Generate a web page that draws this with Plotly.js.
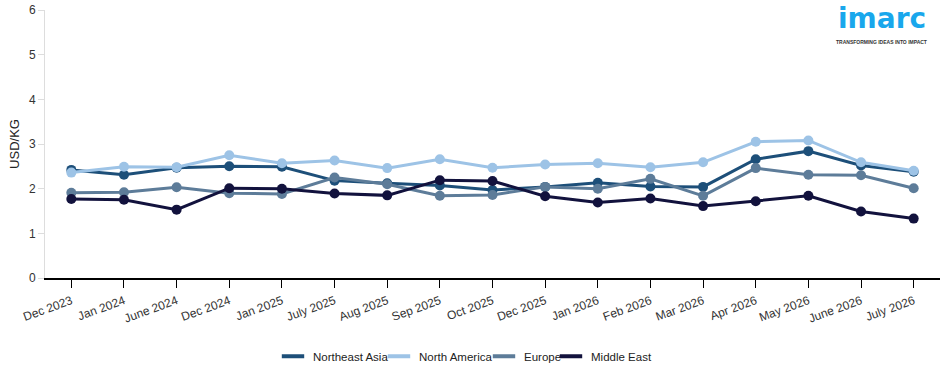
<!DOCTYPE html>
<html>
<head>
<meta charset="utf-8">
<script src="https://cdn.plot.ly/plotly-3.0.1.min.js"></script>
<style>html,body{margin:0;padding:0;background:#fff;}#chart{width:950px;height:373px;}</style>
</head>
<body>
<div id="chart"></div>
<script>
const categories = ["Dec 2023","Jan 2024","June 2024","Dec 2024","Jan 2025","July 2025","Aug 2025","Sep 2025","Oct 2025","Dec 2025","Jan 2026","Feb 2026","Mar 2026","Apr 2026","May 2026","June 2026","July 2026"];
const northeastAsia = [2.42,2.31,2.47,2.50,2.49,2.18,2.12,2.07,1.97,2.04,2.13,2.05,2.04,2.66,2.84,2.52,2.38];
const northAmerica  = [2.36,2.49,2.48,2.75,2.57,2.63,2.46,2.66,2.47,2.54,2.57,2.48,2.59,3.05,3.08,2.59,2.40];
const europe        = [1.91,1.92,2.03,1.90,1.88,2.25,2.10,1.84,1.86,2.04,2.00,2.22,1.84,2.46,2.31,2.30,2.01];
const middleEast    = [1.77,1.75,1.53,2.01,2.00,1.89,1.85,2.19,2.17,1.83,1.69,1.78,1.61,1.72,1.84,1.49,1.33];
const yTicks = [0,1,2,3,4,5,6];

const series = [
  ['Northeast Asia', northeastAsia, '#1d4f79'],
  ['North America', northAmerica, '#9dc3e6'],
  ['Europe', europe, '#5d7c99'],
  ['Middle East', middleEast, '#12123d']
];
const legendIds = ['legend','legend2','legend3','legend4'];
const legendTextX = [315, 421, 526, 593];
const data = [];
series.forEach(([name, y, color]) => {
  data.push({type:'scatter', mode:'lines+markers', name:name, x:categories, y:y,
    line:{color:color, width:3}, marker:{color:color, size:10}, showlegend:false});
});
series.forEach(([name, y, color], i) => {
  data.push({type:'scatter', mode:'markers', name:name, x:[null], y:[null],
    marker:{symbol:'line-ew-open', size:16, color:color, line:{color:color, width:4}},
    showlegend:true, legend:legendIds[i]});
});
const layout = {
  width:950, height:373,
  margin:{l:45, r:10, t:10, b:95, autoexpand:false},
  paper_bgcolor:'#fff', plot_bgcolor:'#fff',
  font:{family:'Liberation Sans, Arial, sans-serif', size:12, color:'#333'},
  showlegend:true,
  xaxis:{type:'category', range:[-0.5,16.5], showgrid:false, zeroline:false, automargin:false,
    showline:true, linecolor:'#000', linewidth:1.5, ticks:'outside', ticklen:8, tickcolor:'#000',
    tickangle:-20, ticklabelstandoff:2, tickfont:{size:12, color:'#333'}},
  yaxis:{range:[0,6], tickvals:yTicks, showgrid:false, zeroline:false, automargin:false,
    showline:true, linecolor:'#ddd', linewidth:1, ticks:'outside', ticklen:6, tickcolor:'#ddd',
    tickfont:{size:12, color:'#333'},
    title:{text:'USD/KG', font:{size:13, color:'#222'}, standoff:6}},
  annotations:[
    {xref:'paper', yref:'paper', x:0.935, y:0.8993, xanchor:'center', yanchor:'bottom', showarrow:false,
     text:'<b>imarc</b>', font:{family:'DejaVu Sans, sans-serif', size:28, color:'#19a7ec'}},
    {xref:'paper', yref:'paper', x:0.935, y:0.8993, xanchor:'center', yanchor:'top', showarrow:false,
     text:'<b>TRANSFORMING IDEAS INTO IMPACT</b>', font:{family:'Liberation Sans, Arial, sans-serif', size:5, color:'#333'}}
  ]
};
legendIds.forEach((id, i) => {
  layout[id] = {orientation:'h', xref:'container', x:(legendTextX[i]-42)/950, xanchor:'left',
    yref:'container', y:0.045, yanchor:'middle', bgcolor:'rgba(0,0,0,0)', borderwidth:0,
    font:{size:11.5, color:'#222'}, itemwidth:30};
});
Plotly.newPlot('chart', data, layout, {displayModeBar:false, staticPlot:true});
</script>
</body>
</html>
